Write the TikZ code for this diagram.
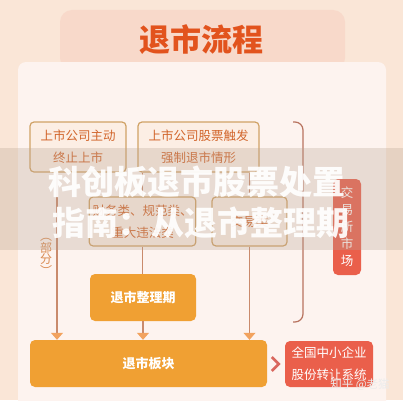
\documentclass[tikz,border=0pt]{standalone}
\usepackage{fontspec}
\setmainfont{Noto Sans CJK SC}
\usetikzlibrary{arrows.meta}
\definecolor{bgpeach}{HTML}{FAE6D7}
\definecolor{tabpink}{HTML}{F8D9CA}
\definecolor{panel}{HTML}{FDF3EF}
\definecolor{titlered}{HTML}{E2531D}
\definecolor{boxline}{HTML}{D0A266}
\definecolor{boxfill}{HTML}{FCEEE4}
\definecolor{boxtext}{HTML}{D2652B}
\definecolor{stageorange}{HTML}{F0A033}
\definecolor{exitred}{HTML}{EA5F4B}
\definecolor{flowline}{HTML}{C98A6C}
\definecolor{bracketc}{HTML}{B8735F}
\definecolor{headorange}{HTML}{F2A25E}
\definecolor{chevc}{HTML}{D9675E}
\definecolor{partc}{HTML}{D98A50}
\definecolor{bandgray}{HTML}{B8A494}

\begin{document}
\begin{tikzpicture}[x=1pt,y=1pt,>=Latex,
  cond/.style={draw=boxline,line width=1.2pt,rounded corners=4pt,fill=boxfill,text=boxtext,align=center,font=\fontsize{12.5}{22}\selectfont},
  stage/.style={fill=stageorange,rounded corners=5pt,text=white,font=\bfseries\fontsize{13}{22}\selectfont},
  exit/.style={fill=exitred,rounded corners=5pt,text=white,align=center,font=\fontsize{12.5}{22}\selectfont},
  flow/.style={draw=flowline,line width=1.1pt},
  arr/.style={flow,-{Triangle[width=12pt,length=7pt,color=headorange]}},
  headline/.style={text=white,text opacity=0.92,font=\bfseries\fontsize{33}{33}\selectfont}]
  \useasboundingbox (0,0) rectangle (403,400);
  \fill[bgpeach] (0,0) rectangle (403,400);
  \fill[tabpink,rounded corners=12pt] (60,330) rectangle (345,390);
  \node[text=titlered,font=\bfseries\fontsize{31}{31}\selectfont] (title) at (201,360) {退市流程};
  \fill[panel,rounded corners=8pt] (18,-10) rectangle (386,338);

  % conditions
  \node[cond,minimum width=96pt,minimum height=50pt] (quit) at (78,253) {上市公司主动\\终止上市};
  \node[cond,minimum width=121pt,minimum height=50pt] (force) at (198.5,253) {上市公司股票触发\\强制退市情形};
  \node[cond,minimum width=105pt,minimum height=49pt] (fin) at (142.5,178.5) {财务类、规范类、\\重大违法类};
  \node[cond,minimum width=75pt,minimum height=49pt] (trade) at (249.5,178.5) {交易类};

  % stages
  \node[stage,minimum width=106pt,minimum height=47pt] (sort) at (143,102.5) {退市整理期};
  \node[stage,minimum width=237pt,minimum height=47pt] (board) at (148.5,36.5) {退市板块};
  \node[exit,minimum width=88pt,minimum height=46pt] (neeq) at (329,36) {全国中小企业\\股份转让系统};
  \node[exit,minimum width=28pt,minimum height=96pt,inner sep=0pt,font=\fontsize{12.5}{17}\selectfont] (market) at (347,173) {交\\易\\所\\市\\场};
  \node[text=partc,align=center,font=\fontsize{12}{11.5}\selectfont] (part) at (46,143) {︵\\部\\分\\︶};

  % connectors
  \draw[arr] ([xshift=-21pt]quit.south) -- ([xshift=-21pt]quit.south |- board.north);
  \draw[flow] (fin.north |- force.south) -- (fin.north);
  \draw[flow] (fin.south) -- (fin.south |- sort.north);
  \draw[arr] (sort.south) -- (sort.south |- board.north);
  \draw[flow] (trade.north |- force.south) -- (trade.north);
  \draw[arr] (trade.south) -- (trade.south |- board.north);
  \coordinate (brtop) at (293,278);
  \coordinate (brbot) at (293,78);
  \draw[draw=bracketc,line width=1.2pt,rounded corners=8pt] (brtop) -| ([xshift=10pt]brbot) -- (brbot);
  \draw[draw=chevc,line width=2.6pt] ([xshift=-13pt,yshift=7pt]neeq.west) -- ([xshift=-6pt]neeq.west) -- ([xshift=-13pt,yshift=-7pt]neeq.west);

  % overlay band
  \fill[bandgray,opacity=0.3] (0,150) rectangle (403,252);
  \node[headline] (headone) at (197,218) {科创板退市股票处置};
  \node[headline] (headtwo) at (201,177) {指南：从退市整理期};
  \node[text=white!85!gray,font=\fontsize{11.5}{12}\selectfont] (mark) at (360,15) {知乎 @老猫};
\end{tikzpicture}
\end{document}
